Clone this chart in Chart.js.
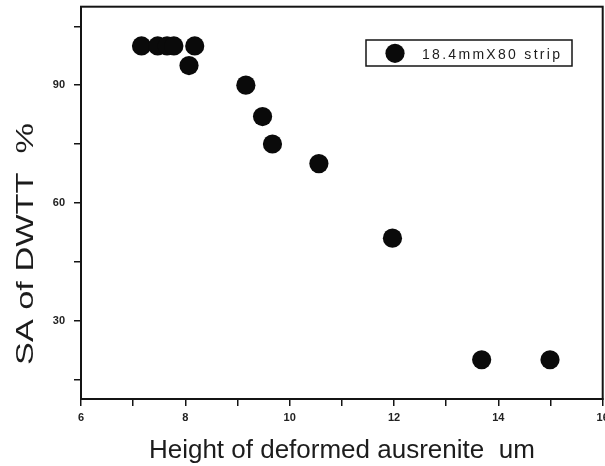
<!DOCTYPE html>
<html>
<head>
<meta charset="utf-8">
<script src="https://cdn.jsdelivr.net/npm/chart.js@4/dist/chart.umd.min.js"></script>
<style>
  html, body { margin: 0; padding: 0; background: #ffffff; }
  #c { display: block; }
</style>
</head>
<body>
<canvas id="c" width="605" height="466"></canvas>
<script>
// ---- data ----
const seriesName = '18.4mmX80 strip';
const heightUm = [7.16, 7.47, 7.65, 7.78, 8.18, 8.07, 9.16, 9.48, 9.67, 10.56, 11.97, 13.68, 14.99];
const saPercent = [100, 100, 100, 100, 100, 95, 90, 82, 75, 70, 51, 20, 20];
const xTitle = 'Height of deformed ausrenite  um';
const yTitle = 'SA of DWTT  %';
const xRange = [6, 16];
const yRange = [10, 110];
const xTickStep = 1;
const yTickStep = 15;
const xLabelEvery = 2;
const yLabelEvery = 30;

const INK = '#141414';
const points = heightUm.map((x, i) => ({ x: x, y: saPercent[i] }));

function zeroPadding(scale) {
  scale.paddingTop = 0;
  scale.paddingBottom = 0;
  scale.paddingLeft = 0;
  scale.paddingRight = 0;
}

const decorPlugin = {
  id: 'decor',
  afterDraw(chart) {
    const ctx = chart.ctx;
    const a = chart.chartArea;
    ctx.save();
    ctx.strokeStyle = INK;
    ctx.lineWidth = 2;
    ctx.strokeRect(a.left, a.top, a.right - a.left, a.bottom - a.top);

    ctx.fillStyle = '#1c1c1c';
    ctx.font = '24px "Liberation Sans", Arial, sans-serif';
    ctx.textAlign = 'center';
    ctx.textBaseline = 'alphabetic';
    ctx.translate(33, 244);
    ctx.rotate(-Math.PI / 2);
    const w = ctx.measureText(yTitle).width;
    ctx.scale(242 / w, 1);
    ctx.fillText(yTitle, 0, 0);
    ctx.restore();

    ctx.save();
    const bx = 366, by = 40, bw = 206, bh = 26;
    ctx.fillStyle = '#ffffff';
    ctx.fillRect(bx, by, bw, bh);
    ctx.strokeStyle = INK;
    ctx.lineWidth = 1.5;
    ctx.strokeRect(bx, by, bw, bh);
    const ds = chart.data.datasets[0];
    ctx.fillStyle = ds.backgroundColor;
    ctx.beginPath();
    ctx.arc(395, 53.3, ds.pointRadius, 0, Math.PI * 2);
    ctx.fill();
    ctx.fillStyle = '#1c1c1c';
    ctx.font = '14px "Liberation Sans", Arial, sans-serif';
    ctx.textAlign = 'left';
    ctx.textBaseline = 'alphabetic';
    if ('letterSpacing' in ctx) {
      ctx.letterSpacing = '2.3px';
      ctx.fillText(ds.label, 422, 59);
    } else {
      ctx.translate(422, 59);
      const tw = ctx.measureText(ds.label).width;
      ctx.scale(140 / tw, 1);
      ctx.fillText(ds.label, 0, 0);
    }
    ctx.restore();
  }
};

new Chart(document.getElementById('c'), {
  type: 'scatter',
  data: {
    datasets: [{
      label: seriesName,
      data: points,
      backgroundColor: '#0a0a0a',
      borderColor: '#0a0a0a',
      borderWidth: 0,
      pointRadius: 9.6,
      pointHoverRadius: 9.6,
      pointStyle: 'circle'
    }]
  },
  options: {
    responsive: false,
    devicePixelRatio: 1,
    animation: false,
    events: [],
    layout: {
      autoPadding: false,
      padding: { left: 0, right: 2.3, top: 6.7, bottom: 0 }
    },
    plugins: {
      legend: { display: false },
      tooltip: { enabled: false }
    },
    scales: {
      x: {
        type: 'linear',
        min: xRange[0],
        max: xRange[1],
        afterFit(scale) { scale.height = 67; zeroPadding(scale); },
        ticks: {
          stepSize: xTickStep,
          padding: 5,
          color: '#222',
          font: { family: '"Liberation Sans", Arial, sans-serif', size: 11, weight: 'bold' },
          maxRotation: 0,
          autoSkip: false,
          callback: (v) => (v % xLabelEvery === 0 ? String(v) : '')
        },
        grid: {
          display: true,
          drawOnChartArea: false,
          drawTicks: true,
          tickLength: 7,
          color: INK,
          lineWidth: 1.5
        },
        border: { display: true, color: INK, width: 2 },
        title: {
          display: true,
          text: xTitle,
          color: '#1c1c1c',
          font: { family: '"Liberation Sans", Arial, sans-serif', size: 26 },
          padding: { top: 0, bottom: 0 }
        }
      },
      y: {
        type: 'linear',
        min: yRange[0],
        max: yRange[1],
        afterFit(scale) { scale.width = 81; zeroPadding(scale); },
        ticks: {
          stepSize: yTickStep,
          includeBounds: false,
          padding: 9,
          color: '#222',
          font: { family: '"Liberation Sans", Arial, sans-serif', size: 11, weight: 'bold' },
          autoSkip: false,
          callback: (v) => (v % yLabelEvery === 0 ? String(v) : '')
        },
        grid: {
          display: true,
          drawOnChartArea: false,
          drawTicks: true,
          tickLength: 7,
          color: INK,
          lineWidth: 1.5
        },
        border: { display: true, color: INK, width: 2 },
        title: { display: false }
      }
    }
  },
  plugins: [decorPlugin]
});
</script>
</body>
</html>
